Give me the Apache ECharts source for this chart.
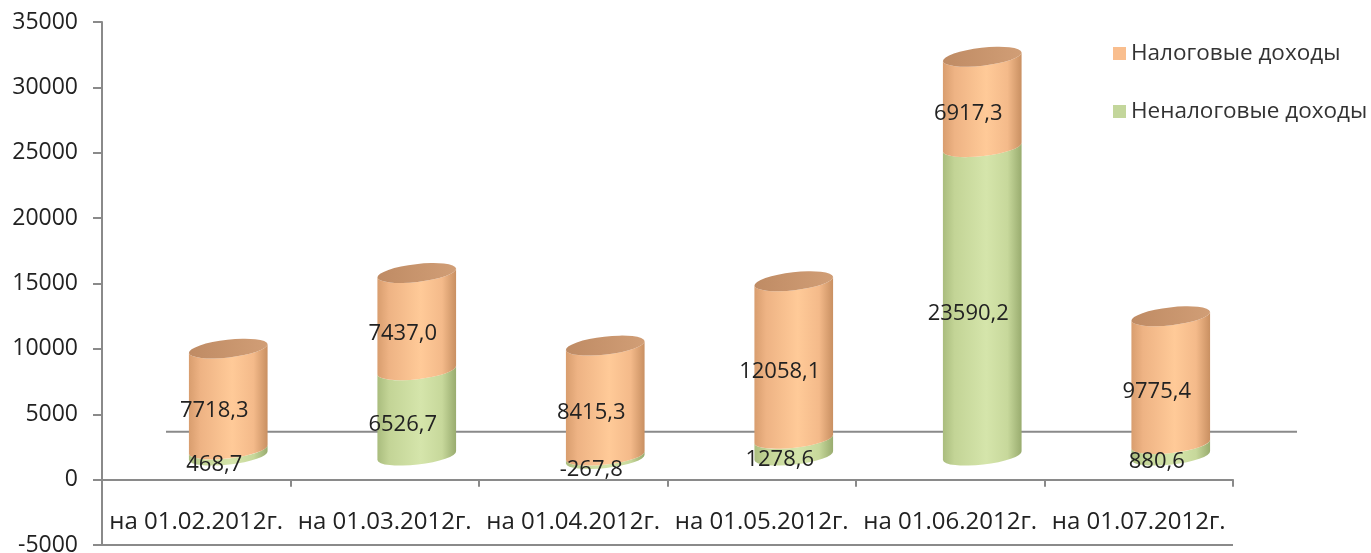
<!DOCTYPE html>
<html>
<head>
<meta charset="utf-8">
<script src="https://cdn.jsdelivr.net/npm/echarts@6/dist/echarts.min.js"></script>
<style>
  html, body { margin: 0; padding: 0; background: #ffffff; }
  #chart { width: 1371px; height: 553px; }
</style>
</head>
<body>
<div id="chart"></div>
<script>
// Report dates (category axis)
const categories = ['на 01.02.2012г.', 'на 01.03.2012г.', 'на 01.04.2012г.', 'на 01.05.2012г.', 'на 01.06.2012г.', 'на 01.07.2012г.'];
// Tax revenue, stacked on top
const taxIncome = [7718.3, 7437.0, 8415.3, 12058.1, 6917.3, 9775.4];
// Non-tax revenue, bottom of the stack
const nonTaxIncome = [468.7, 6526.7, -267.8, 1278.6, 23590.2, 880.6];
const seriesNames = ['Налоговые доходы', 'Неналоговые доходы'];
// Value axis range and step
const yMin = -5000;
const yMax = 35000;
const yStep = 5000;

const FONT = '"Open Sans", "Noto Sans", sans-serif';
const AXIS_GRAY = '#8a8a8a';
const TEXT_COLOR = '#222222';
const DEPTH = [32, -24];        // bars stand half way into the 3-D floor
const LABEL_SHIFT = [18, -12];  // value labels sit between front edge and bar axis
const FLOOR_BACK = [64, -48];   // back edge of the floor

const palettes = {
  tax: {
    legend: '#F9BE8E',
    body: [[0, '#D89D6E'], [0.15, '#EEB384'], [0.55, '#FFCA98'], [0.82, '#F4BA8A'], [1, '#C88F61']],
    cap: [[0, '#BF8B64'], [1, '#D19E76']]
  },
  nonTax: {
    legend: '#C3D69B',
    body: [[0, '#A9BC7D'], [0.15, '#C3D496'], [0.55, '#D5E5AB'], [0.82, '#C7D89B'], [1, '#98AB6E']],
    cap: [[0, '#A9BB7E'], [1, '#BCCD90']]
  }
};

// Same-sign stacking: non-tax first, tax on top; the highest positive piece gets the lid.
function buildStacks() {
  const out = { nonTax: [], tax: [] };
  categories.forEach(function (c, i) {
    let pos = 0, neg = 0, lastPos = null;
    [['nonTax', nonTaxIncome[i]], ['tax', taxIncome[i]]].forEach(function (pair) {
      const key = pair[0], v = pair[1];
      let item;
      if (v >= 0) { item = [i, pos, pos + v, v, 0]; pos += v; lastPos = item; }
      else { item = [i, neg + v, neg, v, 0]; neg += v; }
      out[key].push(item);
    });
    if (lastPos) lastPos[4] = 1;
  });
  return out;
}
const stacks = buildStacks();

function fmt(v) { return v.toFixed(1).replace('.', ','); }
function pt(p) { return p[0].toFixed(2) + ' ' + p[1].toFixed(2); }

function grad(stops) {
  return {
    type: 'linear', x: 0, y: 0, x2: 1, y2: 0,
    colorStops: stops.map(function (s) { return { offset: s[0], color: s[1] }; })
  };
}

function cylinderRenderer(pal) {
  return function (params, api) {
    const i = api.value(0), lo = api.value(1), hi = api.value(2), v = api.value(3), lid = api.value(4);
    const bw = api.size([1, 0])[0];
    const pTop = api.coord([i, hi]);
    const pBot = api.coord([i, lo]);
    const a = bw * 0.21, b = 9, tilt = -6.5;
    const r = tilt * Math.PI / 180;
    const ex = a * Math.cos(r), ey = a * Math.sin(r);
    const cx = pTop[0] + DEPTH[0];
    const yt = pTop[1] + DEPTH[1], yb = pBot[1] + DEPTH[1];
    const lt = [cx - ex, yt - ey], rt = [cx + ex, yt + ey];
    const lb = [cx - ex, yb - ey], rb = [cx + ex, yb + ey];
    const children = [];
    children.push({
      type: 'path',
      shape: {
        pathData: 'M' + pt(lt) + ' L' + pt(lb) +
          ' A' + a + ' ' + b + ' ' + tilt + ' 0 0 ' + pt(rb) +
          ' L' + pt(rt) +
          ' A' + a + ' ' + b + ' ' + tilt + ' 0 1 ' + pt(lt) + ' Z'
      },
      style: { fill: grad(pal.body) }
    });
    if (lid) {
      children.push({
        type: 'path',
        shape: {
          pathData: 'M' + pt(lt) +
            ' A' + a + ' ' + b + ' ' + tilt + ' 0 1 ' + pt(rt) +
            ' A' + a + ' ' + b + ' ' + tilt + ' 0 1 ' + pt(lt) + ' Z'
        },
        style: { fill: grad(pal.cap) }
      });
    }
    children.push({
      type: 'text',
      z2: 50,
      x: (pTop[0] + pBot[0]) / 2 + LABEL_SHIFT[0],
      y: (pTop[1] + pBot[1]) / 2 + LABEL_SHIFT[1],
      style: {
        text: fmt(v),
        fill: TEXT_COLOR,
        font: '22px ' + FONT,
        align: 'center',
        verticalAlign: 'middle'
      }
    });
    return { type: 'group', children: children };
  };
}

function floorRenderer(params, api) {
  const bw = api.size([1, 0])[0];
  const n = categories.length;
  const z0 = api.coord([0, 0]), z1 = api.coord([n - 1, 0]);
  const m0 = api.coord([0, yMin]), m1 = api.coord([n - 1, yMin]);
  const x0 = z0[0] - bw / 2, x1 = z1[0] + bw / 2;
  const lineStyle = { stroke: AXIS_GRAY, lineWidth: 2 };
  return {
    type: 'group',
    children: [
      { type: 'line', shape: { x1: x0 + FLOOR_BACK[0], y1: z0[1] + FLOOR_BACK[1], x2: x1 + FLOOR_BACK[0], y2: z1[1] + FLOOR_BACK[1] }, style: lineStyle },
      { type: 'line', shape: { x1: x0, y1: m0[1], x2: x1, y2: m1[1] }, style: lineStyle }
    ]
  };
}

const chart = echarts.init(document.getElementById('chart'), null, { renderer: 'canvas' });
chart.setOption({
  animation: false,
  backgroundColor: '#ffffff',
  grid: { left: 102, right: 138, top: 22, bottom: 8, containLabel: false, outerBoundsMode: 'none' },
  legend: {
    data: seriesNames,
    orient: 'vertical',
    left: 1108,
    top: 37,
    icon: 'rect',
    itemWidth: 13,
    itemHeight: 13,
    itemGap: 35,
    selectedMode: false,
    textStyle: { fontFamily: FONT, fontSize: 22.5, color: '#333333' }
  },
  xAxis: {
    type: 'category',
    data: categories,
    axisLine: { show: true, onZero: true, lineStyle: { color: AXIS_GRAY, width: 2 } },
    axisTick: { show: true, length: 7, lineStyle: { color: AXIS_GRAY, width: 2 } },
    // labels sit between the zero line and the lower edge of the plot
    axisLabel: { margin: -35, fontFamily: FONT, fontSize: 24, color: TEXT_COLOR, interval: 0 },
    splitLine: { show: false }
  },
  yAxis: {
    type: 'value',
    min: yMin,
    max: yMax,
    interval: yStep,
    axisLine: { show: true, lineStyle: { color: AXIS_GRAY, width: 2 } },
    axisTick: { show: true, length: 9, lineStyle: { color: AXIS_GRAY, width: 2 } },
    axisLabel: { margin: 24, fontFamily: FONT, fontSize: 23, color: TEXT_COLOR, formatter: function (v) { return String(v); } },
    splitLine: { show: false }
  },
  series: [
    {
      name: 'floor',
      type: 'custom',
      silent: true,
      z: 1,
      data: [[0, 0]],
      encode: { x: 0, y: 1 },
      renderItem: floorRenderer
    },
    {
      name: seriesNames[1],
      type: 'custom',
      z: 2,
      itemStyle: { color: palettes.nonTax.legend },
      data: stacks.nonTax,
      encode: { x: 0, y: [1, 2] },
      renderItem: cylinderRenderer(palettes.nonTax)
    },
    {
      name: seriesNames[0],
      type: 'custom',
      z: 2,
      itemStyle: { color: palettes.tax.legend },
      data: stacks.tax,
      encode: { x: 0, y: [1, 2] },
      renderItem: cylinderRenderer(palettes.tax)
    }
  ]
});
</script>
</body>
</html>
